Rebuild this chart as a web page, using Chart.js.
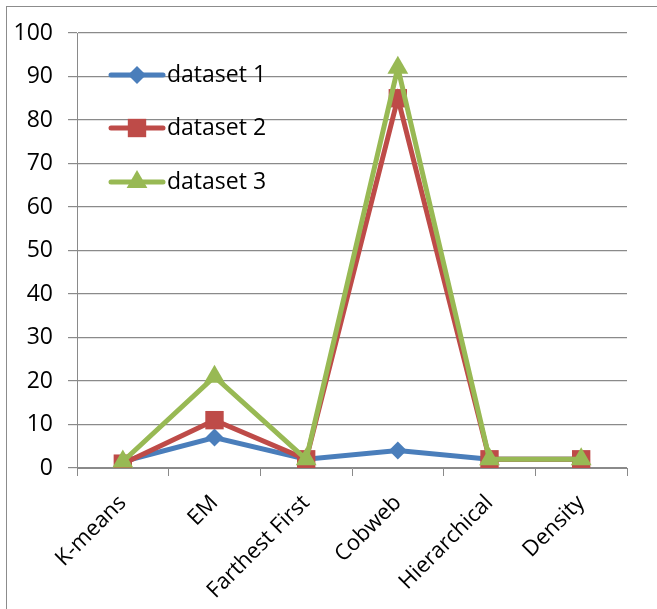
<!DOCTYPE html>
<html>
<head>
<meta charset="utf-8">
<script src="https://cdn.jsdelivr.net/npm/chart.js@4.4.1/dist/chart.umd.min.js"></script>
<style>
  body { margin: 0; background: #fff; }
  #wrap { position: relative; width: 657px; height: 609px; overflow: hidden; }
  #frame { position: absolute; left: 6px; top: 6px; width: 700px; height: 700px; border: 1px solid #8c8c8c; }
  canvas { position: absolute; left: 0; top: 0; }
</style>
</head>
<body>
<div id="wrap">
  <div id="frame"></div>
  <canvas id="chart" width="657" height="609"></canvas>
</div>
<script>
const categories = ['K-means', 'EM', 'Farthest First', 'Cobweb', 'Hierarchical', 'Density']
const dataset1 = [1.5, 7, 2, 4, 2, 2]
const dataset2 = [1, 11, 2, 85, 2, 2]
const dataset3 = [1.5, 21, 2, 92, 2, 2]
const yTicks = [0, 10, 20, 30, 40, 50, 60, 70, 80, 90, 100]

const FONT = "'Open Sans', sans-serif"
const gridColor = '#8a8a8a'

// legend drawn inside the plot, top left, like the excel one
const insideLegend = {
    id: 'insideLegend',
    afterDraw(chart) {
        const ctx = chart.ctx
        const rows = [75, 128, 182]
        const list = [0, 1, 2]
        list.forEach((i, n) => {
            const ds = chart.data.datasets[i]
            const y = rows[n]
            ctx.save()
            ctx.strokeStyle = ds.borderColor
            ctx.lineWidth = 5
            ctx.lineCap = 'round'
            ctx.beginPath()
            ctx.moveTo(111, y)
            ctx.lineTo(163, y)
            ctx.stroke()
            ctx.fillStyle = ds.borderColor
            Chart.helpers.drawPoint(ctx, {
                pointStyle: ds.pointStyle,
                radius: ds.pointRadius,
                borderWidth: 0
            }, 137, y)
            ctx.fillStyle = '#000'
            ctx.font = '23px ' + FONT
            ctx.textBaseline = 'middle'
            ctx.textAlign = 'left'
            ctx.fillText(ds.label, 167, y)
            ctx.restore()
        })
    }
}

const ctx = document.getElementById('chart').getContext('2d')
new Chart(ctx, {
    type: 'line',
    data: {
        labels: categories,
        datasets: [{
            label: 'dataset 1',
            data: dataset1,
            borderColor: '#4a7ebb',
            backgroundColor: '#4a7ebb',
            pointStyle: 'rectRot',
            pointRadius: 9,
            order: 2
        }, {
            label: 'dataset 2',
            data: dataset2,
            borderColor: '#be4b48',
            backgroundColor: '#be4b48',
            pointStyle: 'rect',
            pointRadius: 13,
            order: 1
        }, {
            label: 'dataset 3',
            data: dataset3,
            borderColor: '#98b954',
            backgroundColor: '#98b954',
            pointStyle: 'triangle',
            pointRadius: 12,
            order: 0
        }]
    },
    options: {
        responsive: false,
        animation: false,
        elements: {
            line: { borderWidth: 5, tension: 0, borderJoinStyle: 'miter' },
            point: { borderWidth: 0 }
        },
        layout: { padding: { top: 33, right: 30, left: 0, bottom: 0 } },
        plugins: {
            legend: { display: false },
            tooltip: { enabled: false }
        },
        scales: {
            x: {
                offset: true,
                grid: { offset: true, drawOnChartArea: false, drawTicks: true, tickLength: 8, color: gridColor },
                border: { display: true, color: gridColor, width: 1 },
                ticks: {
                    minRotation: 45, maxRotation: 45, padding: 14,
                    color: '#000', font: { family: FONT, size: 22 }
                },
                afterFit(scale) { scale.height = 141 }
            },
            y: {
                min: 0,
                max: 100,
                afterBuildTicks(scale) { scale.ticks = yTicks.map(v => ({ value: v })) },
                grid: { color: gridColor, tickLength: 9, lineWidth: 1.2 },
                border: { display: true, color: gridColor, width: 1 },
                ticks: { padding: 15, color: '#000', font: { family: FONT, size: 23 } },
                afterFit(scale) { scale.width = 77 }
            }
        }
    },
    plugins: [insideLegend]
})
</script>
</body>
</html>
